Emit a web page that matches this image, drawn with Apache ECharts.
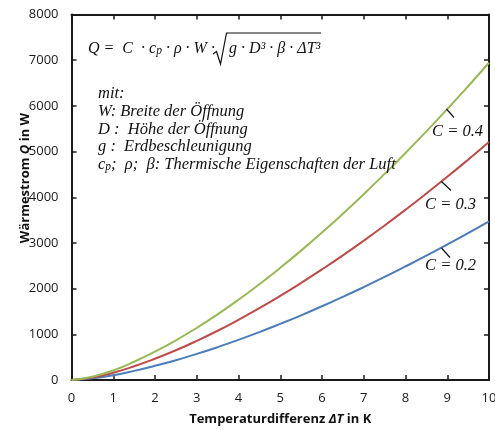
<!DOCTYPE html>
<html><head><meta charset="utf-8">
<script src="https://cdn.jsdelivr.net/npm/echarts@6.0.0/dist/echarts.min.js"></script>
<style>html,body{margin:0;padding:0;background:#fff}#c{width:495px;height:430px}</style>
</head><body><div id="c"></div><script>
// Temperature difference (K)
const deltaT = [0,0.5,1,1.5,2,2.5,3,3.5,4,4.5,5,5.5,6,6.5,7,7.5,8,8.5,9,9.5,10];
// Heat flow Q (W) for C = 0.2, 0.3, 0.4
const qC02 = [0,36,105,200,311,434,571,719,878,1048,1228,1416,1614,1820,2034,2255,2485,2721,2965,3215,3472];
const qC03 = [0,54,158,300,466,651,856,1078,1318,1572,1841,2124,2421,2729,3050,3383,3727,4082,4447,4823,5208];
const qC04 = [0,72,210,400,621,868,1141,1438,1757,2096,2455,2833,3227,3639,4067,4511,4969,5442,5929,6430,6944];
const seriesNames = ['C = 0.2','C = 0.3','C = 0.4'];
const seriesColors = ['#4a7ebb','#be4b48','#98b954'];
const xTickMin = 0, xTickMax = 10, xTickStep = 1;
const yTickMin = 0, yTickMax = 8000, yTickStep = 1000;

const chart = echarts.init(document.getElementById('c'), null, {renderer:'canvas'});
const pairs = v => deltaT.map((x,i)=>[x,v[i]]);
const axisCol = '#1a1a1a';
const labelFont = {fontFamily:'Open Sans', fontSize:13, color:'#1a1a1a'};
const serif = 'Liberation Serif';
const mathStyle = {fontFamily:serif, fontStyle:'italic', fontSize:16.5, fill:'#111'};
const sub = {fontFamily:serif, fontStyle:'italic', fontSize:11.5, verticalAlign:'bottom', lineHeight:12, padding:[7,0,0,0]};

function txt(x,y,text,extra){
  return {type:'text', x:x, y:y, style:Object.assign({text:text, verticalAlign:'middle', align:'left',
    rich:{s:Object.assign({},sub)}}, mathStyle, extra||{}) , z:10};
}

const option = {
  animation:false,
  backgroundColor:'#fff',
  grid:{left:71.5, right:6, top:14.5, bottom:50, containLabel:false, outerBoundsMode:'none'},
  xAxis:[{
    type:'value', min:xTickMin, max:xTickMax, interval:xTickStep,
    axisLine:{show:true, onZero:false, lineStyle:{color:axisCol, width:2}},
    axisTick:{show:true, inside:true, length:5, lineStyle:{color:axisCol, width:1.5}},
    axisLabel:Object.assign({margin:12, formatter:v=>String(v)}, labelFont),
    splitLine:{show:false},
    name:'Temperaturdifferenz {i|ΔT} in K', nameLocation:'middle', nameGap:33,
    nameTextStyle:{fontFamily:'Open Sans', fontWeight:'bold', fontSize:13, color:'#111',
      rich:{i:{fontFamily:'Open Sans', fontWeight:'bold', fontStyle:'italic', fontSize:13, color:'#111'}}}
  },{
    type:'value', position:'top', min:xTickMin, max:xTickMax, interval:xTickStep,
    axisLine:{show:true, onZero:false, lineStyle:{color:axisCol, width:2}},
    axisTick:{show:true, inside:true, length:5, lineStyle:{color:axisCol, width:1.5}},
    axisLabel:{show:false}, splitLine:{show:false}
  }],
  yAxis:[{
    type:'value', min:yTickMin, max:yTickMax, interval:yTickStep,
    axisLine:{show:true, onZero:false, lineStyle:{color:axisCol, width:2}},
    axisTick:{show:true, inside:true, length:5, lineStyle:{color:axisCol, width:1.5}},
    axisLabel:Object.assign({margin:13, formatter:v=>String(v)}, labelFont),
    splitLine:{show:false}
  },{
    type:'value', position:'right', min:yTickMin, max:yTickMax, interval:yTickStep,
    axisLine:{show:true, onZero:false, lineStyle:{color:axisCol, width:2}},
    axisTick:{show:true, inside:true, length:5, lineStyle:{color:axisCol, width:1.5}},
    axisLabel:{show:false}, splitLine:{show:false}
  }],
  series:[qC02,qC03,qC04].map((v,i)=>({
    name:seriesNames[i], type:'line', data:pairs(v), smooth:true, showSymbol:false,
    lineStyle:{color:seriesColors[i], width:2}, itemStyle:{color:seriesColors[i]}
  })),
  graphic:[
    {type:'text', x:25, y:178, rotation:Math.PI/2, z:10,
      style:{text:'Wärmestrom {i|Q} in W', align:'center', verticalAlign:'middle',
        fontFamily:'Open Sans', fontWeight:'bold', fontSize:13, fill:'#111',
        rich:{i:{fontFamily:'Open Sans', fontWeight:'bold', fontStyle:'italic', fontSize:13, color:'#111'}}}},
    // formula
    txt(88,49,'Q =  C  · c{s|p} · ρ · W ·', {fontSize:16}),
    {type:'polyline', z:10, shape:{points:[[213,54],[216.5,51.5],[220.5,64],[226.5,33],[321,33]]},
      style:{stroke:'#111', lineWidth:1.2, fill:null}},
    txt(229,49,'g · D³ · β · ΔT³', {fontSize:16}),
    // legend text
    txt(98,94,'mit:'),
    txt(98,112,'W: Breite der Öffnung'),
    txt(98,129.5,'D :  Höhe der Öffnung'),
    txt(98,147,'g :  Erdbeschleunigung'),
    txt(98,164.5,'c{s|p};  ρ;  β: Thermische Eigenschaften der Luft'),
    // curve labels
    {type:'line', z:10, shape:{x1:446.5,y1:109,x2:454,y2:117.5}, style:{stroke:'#111', lineWidth:1.2}},
    txt(432,132,'C = 0.4'),
    {type:'line', z:10, shape:{x1:441.5,y1:181.5,x2:451,y2:190.5}, style:{stroke:'#111', lineWidth:1.2}},
    txt(425,205,'C = 0.3'),
    {type:'line', z:10, shape:{x1:441.5,y1:248,x2:450,y2:257.5}, style:{stroke:'#111', lineWidth:1.2}},
    txt(425,266,'C = 0.2')
  ]
};
chart.setOption(option);
</script></body></html>
